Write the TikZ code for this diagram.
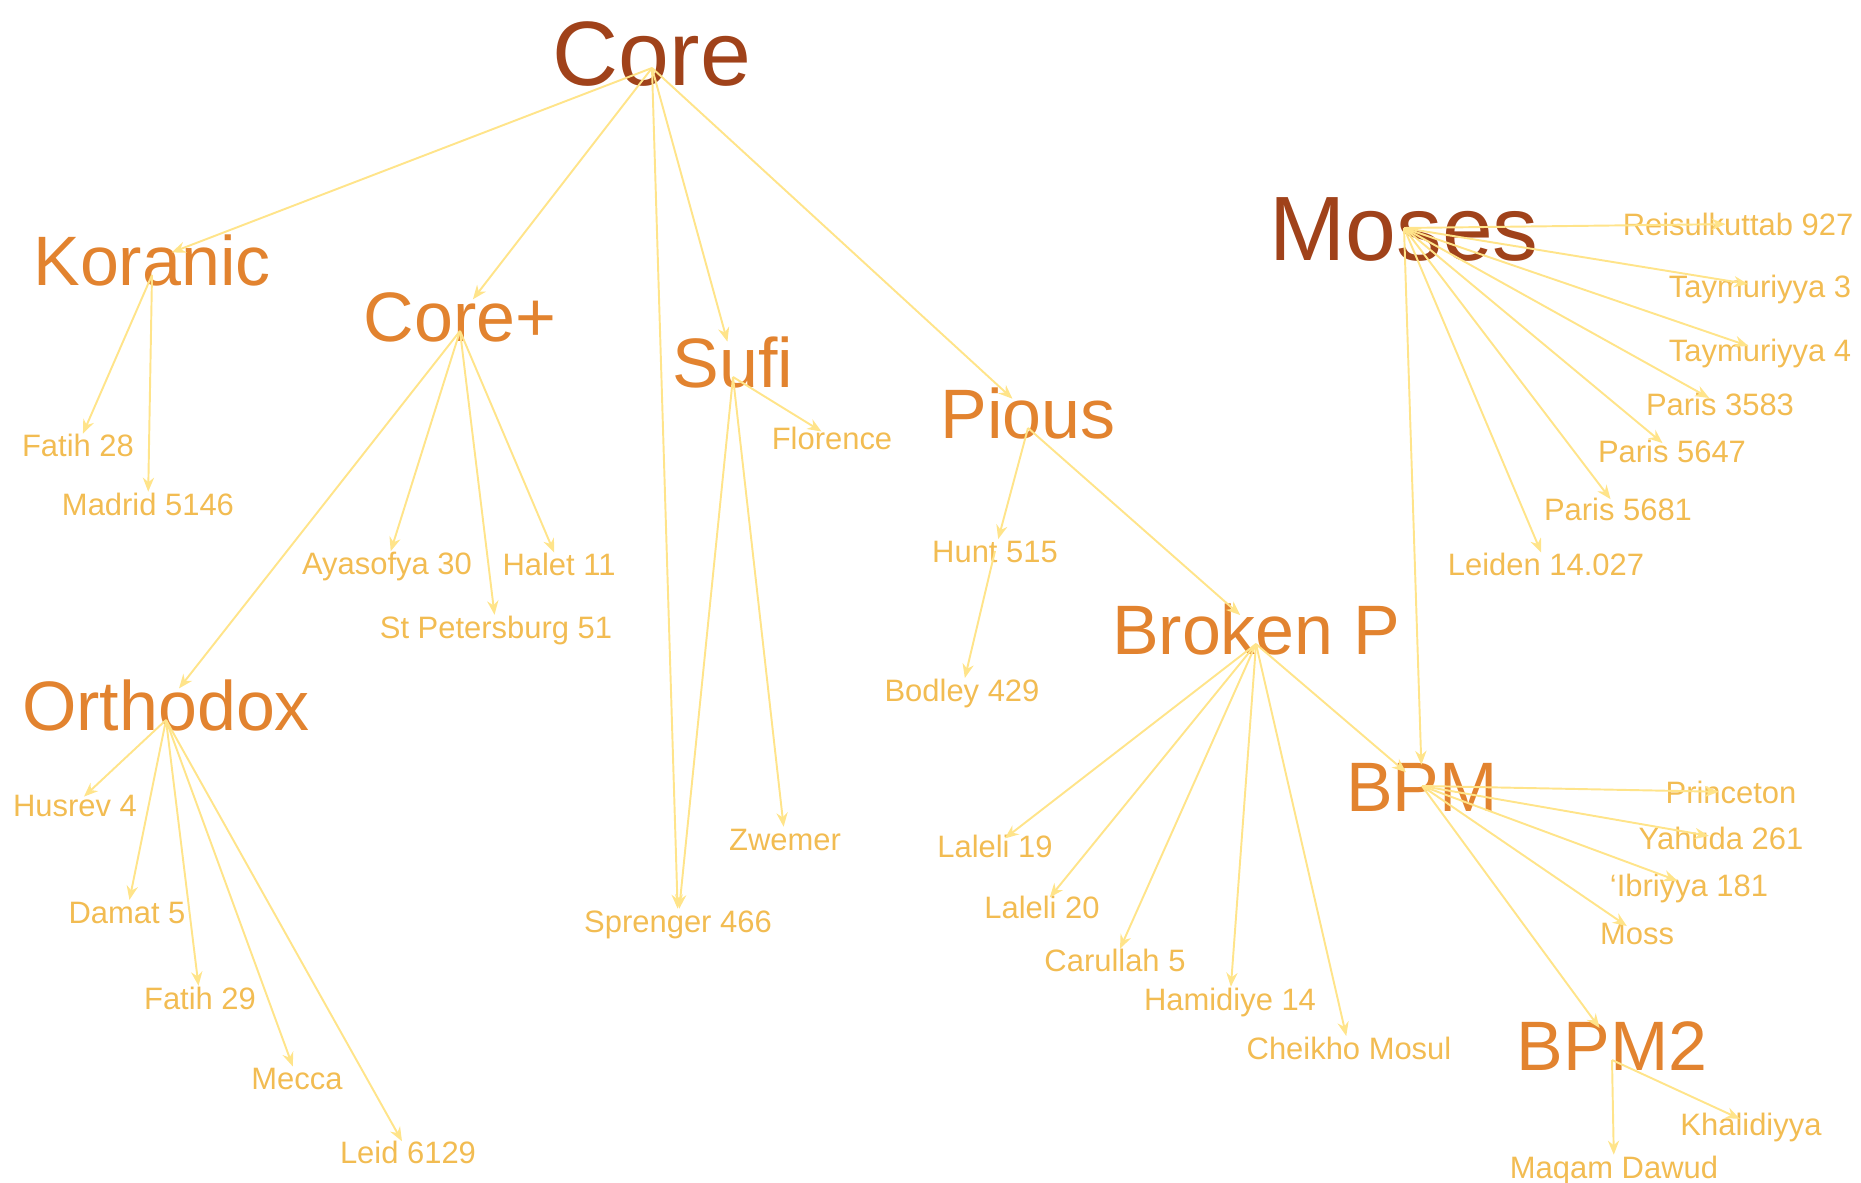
\documentclass[tikz,border=0pt]{standalone}
\usepackage{fontspec}
\setmainfont{Liberation Sans}
\usepackage{xcolor}
\usepackage{tikz}
\usetikzlibrary{arrows.meta}

\definecolor{rootcol}{HTML}{A0421A}
\definecolor{groupcol}{HTML}{E2832F}
\definecolor{mscol}{HTML}{F2BC52}
\definecolor{edgecol}{HTML}{FFE48A}

\begin{document}
\begin{tikzpicture}[
  x=0.01cm, y=-0.01cm,
  label/.style={inner sep=0pt,text depth=0pt,anchor=center},
  root/.style={label,text height=18.6pt,text=rootcol,font=\fontsize{26}{26}\selectfont},
  group/.style={label,text height=14.25pt,text=groupcol,font=\fontsize{19.9}{20}\selectfont},
  ms/.style={label,text height=6.3pt,text=mscol,font=\fontsize{8.8}{9}\selectfont},
  arrow/.style={-{Stealth[length=4pt,width=3.2pt]},draw=edgecol,fill=edgecol,line width=0.55pt,shorten >=3.5pt},
  toGroup/.style={arrow,shorten >=6pt}
]
  \useasboundingbox (0,0) rectangle (1861,1183);

  % families
  \node[root] (core) at (652,53) {Core};
  \node[root] (moses) at (1404,228) {Moses};
  \node[group] (koranic) at (152,260) {Koranic};
  \node[group] (coreplus) at (460,316) {Core+};
  \node[group] (sufi) at (733,362) {Sufi};
  \node[group] (pious) at (1028,413) {Pious};
  \node[group] (orthodox) at (166,705) {Orthodox};
  \node[group] (brokenp) at (1256,629) {Broken P};
  \node[group] (bpm) at (1422,786) {BPM};
  \node[group] (bpmtwo) at (1612,1045) {BPM2};

  % manuscripts
  \node[ms] (fatih28) at (78,445) {Fatih 28};
  \node[ms] (madrid) at (148,504) {Madrid 5146};
  \node[ms] (ayasofya) at (387,563) {Ayasofya 30};
  \node[ms] (halet) at (559,564) {Halet 11};
  \node[ms] (stpete) at (496,627) {St Petersburg 51};
  \node[ms] (florence) at (832,438) {Florence};
  \node[ms] (hunt) at (995,551) {Hunt 515};
  \node[ms] (bodley) at (962,690) {Bodley 429};
  \node[ms] (zwemer) at (785,839) {Zwemer};
  \node[ms] (sprenger) at (678,921) {Sprenger 466};
  \node[ms] (husrev) at (75,805) {Husrev 4};
  \node[ms] (damat) at (127,912) {Damat 5};
  \node[ms] (fatih29) at (200,998) {Fatih 29};
  \node[ms] (mecca) at (297,1078) {Mecca};
  \node[ms] (leid) at (408,1152) {Leid 6129};
  \node[ms] (laleli19) at (995,846) {Laleli 19};
  \node[ms] (laleli20) at (1042,907) {Laleli 20};
  \node[ms] (carullah) at (1115,960) {Carullah 5};
  \node[ms] (hamidiye) at (1230,999) {Hamidiye 14};
  \node[ms] (cheikho) at (1349,1048) {Cheikho Mosul};
  \node[ms] (reisul) at (1738,224) {Reisulkuttab 927};
  \node[ms] (taym3) at (1760,286) {Taymuriyya 3};
  \node[ms] (taym4) at (1760,350) {Taymuriyya 4};
  \node[ms] (paris3583) at (1720,404) {Paris 3583};
  \node[ms] (paris5647) at (1672,451) {Paris 5647};
  \node[ms] (paris5681) at (1618,509) {Paris 5681};
  \node[ms] (leiden) at (1546,564) {Leiden 14.027};
  \node[ms] (princeton) at (1731,792) {Princeton};
  \node[ms] (yahuda) at (1721,838) {Yahuda 261};
  \node[ms] (ibriyya) at (1689,885) {`Ibriyya 181};
  \node[ms] (moss) at (1637,933) {Moss};
  \node[ms] (khalidiyya) at (1751,1124) {Khalidiyya};
  \node[ms] (maqam) at (1614,1167) {Maqam Dawud};

  % links (most edges leave a little below the label centre)
  \foreach \to in {koranic,coreplus,sufi,pious}
    \draw[toGroup] (core.center) ++(0,15) -- (\to.center);
  \draw[arrow] (core.center) ++(0,15) -- (sprenger.center);
  \foreach \to in {fatih28,madrid}
    \draw[arrow] (koranic.center) ++(0,15) -- (\to.center);
  \foreach \to in {ayasofya,stpete,halet}
    \draw[arrow] (coreplus.center) ++(0,15) -- (\to.center);
  \draw[toGroup] (coreplus.center) ++(0,15) -- (orthodox.center);
  \foreach \to in {husrev,damat,fatih29,mecca,leid}
    \draw[arrow] (orthodox.center) ++(0,15) -- (\to.center);
  \foreach \to in {florence,zwemer,sprenger}
    \draw[arrow] (sufi.center) ++(0,15) -- (\to.center);
  \draw[arrow] (pious.center) ++(0,15) -- (hunt.center);
  \draw[toGroup] (pious.center) ++(0,15) -- (brokenp.center);
  \draw[arrow] (hunt.center) -- (bodley.center);
  \foreach \to in {laleli19,laleli20,carullah,hamidiye,cheikho}
    \draw[arrow] (brokenp.center) ++(0,15) -- (\to.center);
  \draw[toGroup] (brokenp.center) ++(0,15) -- (bpm.center);
  \foreach \to in {reisul,taym3,taym4,paris3583,paris5647,paris5681,leiden}
    \draw[arrow] (moses.center) -- (\to.center);
  \draw[toGroup] (moses.center) -- (bpm.center);
  \foreach \to in {princeton,yahuda,ibriyya,moss}
    \draw[arrow] (bpm.center) -- (\to.center);
  \draw[toGroup] (bpm.center) -- (bpmtwo.center);
  \foreach \to in {khalidiyya,maqam}
    \draw[arrow] (bpmtwo.center) ++(0,15) -- (\to.center);
\end{tikzpicture}
\end{document}
